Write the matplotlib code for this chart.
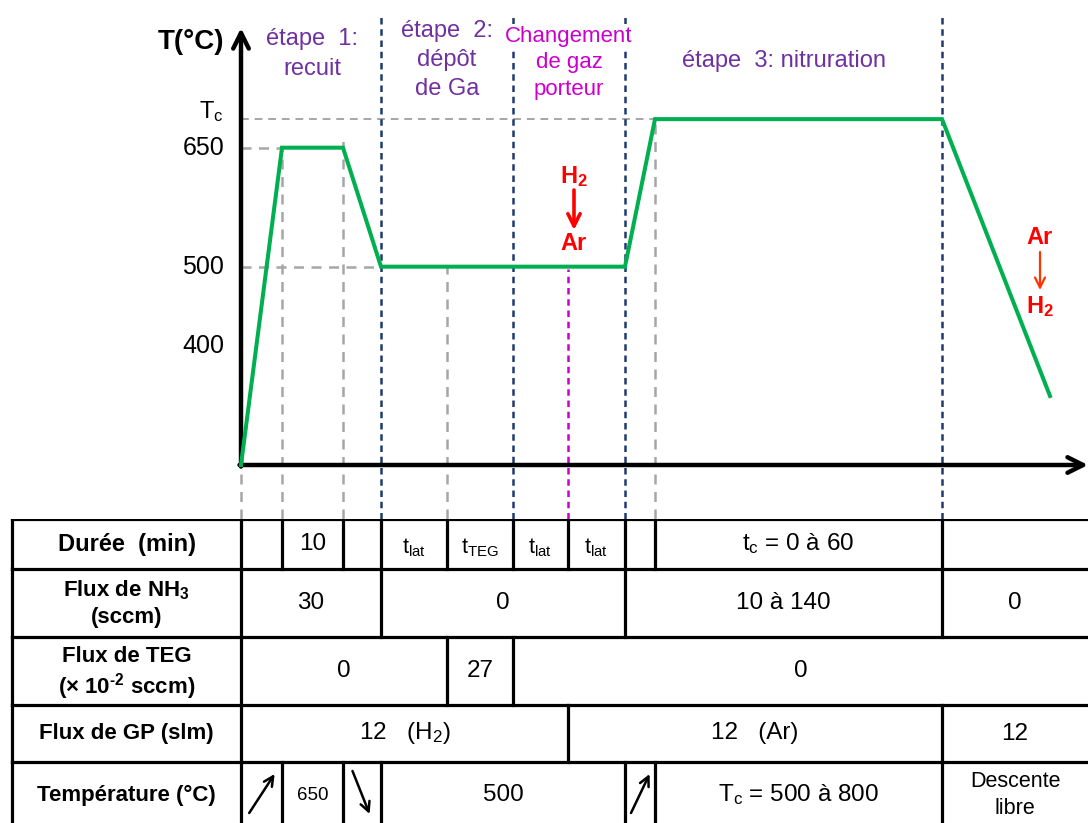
import matplotlib
matplotlib.use("Agg")
import matplotlib.pyplot as plt

plt.rcParams["font.family"] = ["Liberation Sans", "DejaVu Sans"]
plt.rcParams["mathtext.default"] = "regular"

# schematic growth profile: time in arbitrary units, temperature in degC
profile_time = [0, 41, 102, 140, 384, 414, 701, 809]
profile_temp = [250, 650, 650, 500, 500, 686, 686, 337]

temp_ticks = [400, 500, 650]
tc_temp = 686

# phase boundaries along the time axis
t_ramp, t_anneal_end, t_step2, t_teg, t_teg_end, t_gas, t_step3, t_plateau, t_cool = 41, 102, 140, 206, 272, 327, 384, 414, 701
t_end = 847

stage_labels = ["étape  1:\nrecuit", "étape  2:\ndépôt\nde Ga", "Changement", "de gaz\nporteur", "étape  3: nitruration"]

# table rows: (label, cell edges, cell texts)
row_labels = ["Durée  (min)", "Flux de NH$_3$\n(sccm)", "Flux de TEG\n(× 10$^{\u20102}$ sccm)",
              "Flux de GP (slm)", "Température (°C)"]
duree_edges = [0, t_ramp, t_anneal_end, t_step2, t_teg, t_teg_end, t_gas, t_step3, t_plateau, t_cool, t_end]
duree_vals = ["", "10", "", "t$_{lat}$", "t$_{TEG}$", "t$_{lat}$", "t$_{lat}$", "", "t$_c$ = 0 à 60", ""]
nh3_edges = [0, t_step2, t_step3, t_cool, t_end]
nh3_vals = ["30", "0", "10 à 140", "0"]
teg_edges = [0, t_teg, t_teg_end, t_end]
teg_vals = ["0", "27", "0"]
gp_edges = [0, t_gas, t_cool, t_end]
gp_vals = ["12   (H$_2$)", "12   (Ar)", "12"]
temp_edges = [0, t_ramp, t_anneal_end, t_step2, t_step3, t_plateau, t_cool, t_end]
temp_vals = ["up", "650", "down", "500", "up", "T$_c$ = 500 à 800", "Descente\nlibre"]

# --- layout (pixel based, figure 1088 x 823) ---
W, H = 1088, 823
X0 = 241            # pixel of time origin
TAB_TOP = 519       # pixel of table top
PX_PER_DEG = 0.7933
T_ORIGIN = 250
Y_ORIGIN_PX = 465


def px_to_temp(py):
    return T_ORIGIN + (Y_ORIGIN_PX - py) / PX_PER_DEG


GREEN = "#00B050"
GRAY = "#A6A6A6"
NAVY = "#1F3A6E"
MAGENTA = "#CC00CC"
PURPLE = "#7030A0"
RED = "#FF0000"

fig = plt.figure(figsize=(W / 100, H / 100), dpi=100)
fig.patch.set_facecolor("white")

ax = fig.add_axes([0, 1 - TAB_TOP / H, 1, TAB_TOP / H])
ax.set_xlim(-X0, W - X0)
ax.set_ylim(px_to_temp(TAB_TOP), px_to_temp(0))
ax.axis("off")

y_bot = px_to_temp(TAB_TOP)
y_top = px_to_temp(15)

gray_ls = (0, (4, 3))
navy_ls = (0, (2.6, 1.9))

# horizontal reference levels
ax.plot([0, t_plateau], [tc_temp, tc_temp], color=GRAY, lw=1.4, ls=gray_ls, zorder=1)
ax.plot([0, t_ramp], [650, 650], color=GRAY, lw=1.8, ls=gray_ls, zorder=1)
ax.plot([0, t_step2], [500, 500], color=GRAY, lw=1.8, ls=gray_ls, zorder=1)

# vertical gray markers
for tx, ty in [(0, T_ORIGIN), (t_ramp, 650), (t_anneal_end, 662), (t_teg, 500), (t_plateau, tc_temp)]:
    ax.plot([tx, tx], [y_bot, ty], color=GRAY, lw=1.8, ls=gray_ls, zorder=1)
# stage boundaries
for tx in [t_step2, t_teg_end, t_step3, t_cool]:
    ax.plot([tx, tx], [y_bot, y_top], color=NAVY, lw=1.8, ls=navy_ls, zorder=1)
ax.plot([t_gas, t_gas], [y_bot, 497], color=MAGENTA, lw=1.8, ls=navy_ls, zorder=1)

# axes with arrows
ax.annotate("", xy=(0, px_to_temp(28)), xytext=(0, T_ORIGIN - 2),
            arrowprops=dict(arrowstyle="->", lw=3.2, color="black", mutation_scale=28,
                            shrinkA=0, shrinkB=0), zorder=3)
ax.annotate("", xy=(W - X0, T_ORIGIN), xytext=(-1.5, T_ORIGIN),
            arrowprops=dict(arrowstyle="->", lw=3.2, color="black", mutation_scale=28,
                            shrinkA=0, shrinkB=0), zorder=3)

# temperature profile
ax.plot(profile_time, profile_temp, color=GREEN, lw=2.9, solid_joinstyle="miter", zorder=4)

# axis labels
ax.text(-17, px_to_temp(42), "T(°C)", ha="right", va="center", fontsize=20, fontweight="bold")
for tv in temp_ticks:
    ax.text(-17, tv, str(tv), ha="right", va="center", fontsize=18)
ax.text(-17, px_to_temp(112), "T$_c$", ha="right", va="center", fontsize=17)

# stage labels
ax.text((0 + t_step2) / 2 + 1, px_to_temp(54), stage_labels[0], ha="center", va="center",
        fontsize=17, color=PURPLE, linespacing=1.5)
ax.text((t_step2 + t_teg_end) / 2, px_to_temp(60), stage_labels[1], ha="center", va="center",
        fontsize=17, color=PURPLE, linespacing=1.42)
ax.text((t_teg_end + t_step3) / 2, px_to_temp(36), stage_labels[2], ha="center", va="center",
        fontsize=16, color=MAGENTA, zorder=2,
        bbox=dict(boxstyle="square,pad=0.05", facecolor="white", edgecolor="none"))
ax.text((t_teg_end + t_step3) / 2, px_to_temp(76), stage_labels[3], ha="center", va="center",
        fontsize=16, color=MAGENTA, linespacing=1.32, zorder=2)
ax.text((t_step3 + t_cool) / 2, px_to_temp(61), stage_labels[4], ha="center", va="center",
        fontsize=17, color=PURPLE)

# carrier gas switches
ax.text(t_gas + 6, px_to_temp(177), "H$_2$", ha="center", va="center", fontsize=17,
        fontweight="bold", color=RED)
ax.annotate("", xy=(t_gas + 6, px_to_temp(230)), xytext=(t_gas + 6, px_to_temp(190)),
            arrowprops=dict(arrowstyle="->", lw=2.6, color=RED, mutation_scale=22,
                            shrinkA=0, shrinkB=0))
ax.text(t_gas + 6, px_to_temp(244), "Ar", ha="center", va="center", fontsize=17,
        fontweight="bold", color=RED)

ax.text(799, px_to_temp(237), "Ar", ha="center", va="center", fontsize=17,
        fontweight="bold", color=RED)
ax.annotate("", xy=(799, px_to_temp(290)), xytext=(799, px_to_temp(252)),
            arrowprops=dict(arrowstyle="->", lw=1.6, color="#FF3300", mutation_scale=18,
                            shrinkA=0, shrinkB=0))
ax.text(799, px_to_temp(307), "H$_2$", ha="center", va="center", fontsize=17,
        fontweight="bold", color=RED)

# --- table ---
tab_h = H - TAB_TOP
axt = fig.add_axes([0, 0, 1, tab_h / H])
axt.set_xlim(-X0, W - X0)
axt.set_ylim(tab_h, 0)
axt.axis("off")

row_edges = [0, 50, 118, 186, 243, 309]
x_left = 12 - X0
rows = [(duree_edges, duree_vals), (nh3_edges, nh3_vals), (teg_edges, teg_vals),
        (gp_edges, gp_vals), (temp_edges, temp_vals)]
TLW = 2.3

for ye in row_edges[:-1]:
    axt.plot([x_left, t_end + 5], [ye, ye], color="black", lw=TLW, solid_capstyle="projecting")

label_sizes = [17, 16, 16, 16, 16]
label_spacing = [1.2, 1.3, 1.15, 1.2, 1.2]
for i, (label, (edges, vals)) in enumerate(zip(row_labels, rows)):
    y0, y1 = row_edges[i], row_edges[i + 1]
    if i == 4:
        yc = 276
    else:
        yc = (y0 + y1) / 2
    axt.plot([x_left, x_left], [y0, y1], color="black", lw=TLW)
    ly = yc + 3 if i == 2 else yc
    axt.text((x_left + 0) / 2, ly, label, ha="center", va="center", fontsize=label_sizes[i],
             fontweight="bold", linespacing=label_spacing[i])
    for e in edges[:-1]:
        axt.plot([e, e], [y0, y1], color="black", lw=TLW)
    for a, b, v in zip(edges[:-1], edges[1:], vals):
        xc = (a + b) / 2
        if v == "up":
            axt.annotate("", xy=(a + 0.82 * (b - a), yc - 21), xytext=(a + 0.2 * (b - a), yc + 18),
                         arrowprops=dict(arrowstyle="->", lw=1.8, color="black",
                                         mutation_scale=17, shrinkA=0, shrinkB=0))
        elif v == "down":
            axt.annotate("", xy=(a + 0.7 * (b - a), yc + 19), xytext=(a + 0.25 * (b - a), yc - 24),
                         arrowprops=dict(arrowstyle="->", lw=1.8, color="black",
                                         mutation_scale=17, shrinkA=0, shrinkB=0))
        elif v:
            if v == "650":
                fs = 13.5
            elif v.startswith("t$_{"):
                fs = 15.5
            elif v.startswith("Descente"):
                fs = 15.5
            else:
                fs = 17.5
            ty = yc + 4 if v.startswith("t$_{") else yc
            ls = 1.4 if v.startswith("Descente") else 1.15
            axt.text(xc, ty, v, ha="center", va="center", fontsize=fs, linespacing=ls)

fig.savefig("out.png", dpi=100, facecolor="white")
